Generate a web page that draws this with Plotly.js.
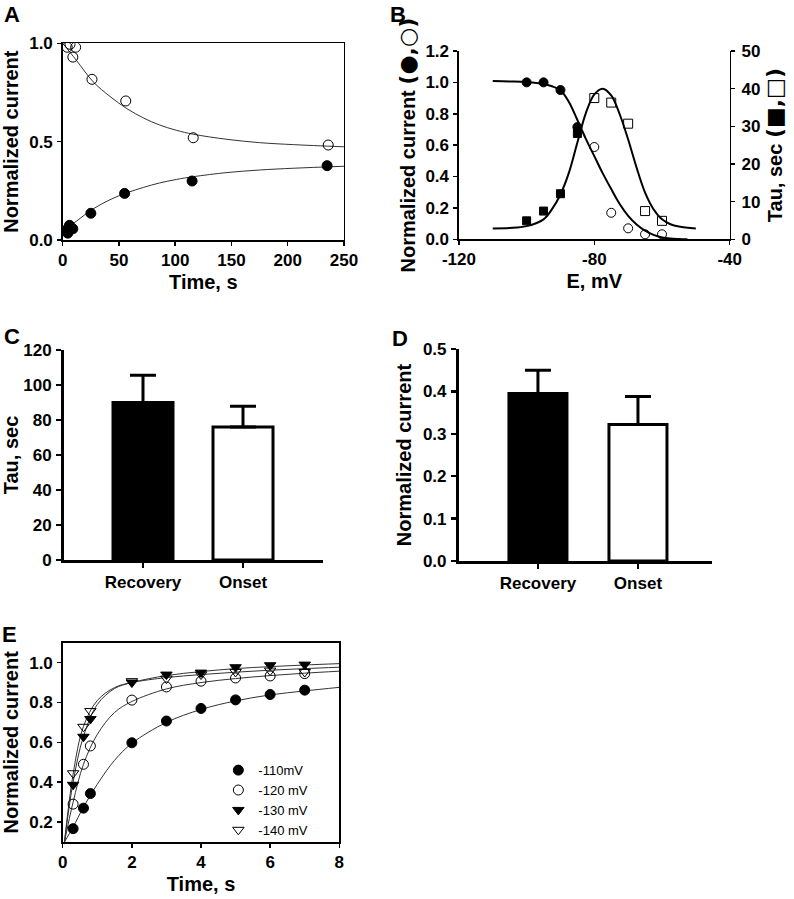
<!DOCTYPE html>
<html>
<head>
<meta charset="utf-8">
<script src="https://cdn.plot.ly/plotly-3.0.1.min.js"></script>
<style>
  html, body { margin: 0; padding: 0; background: #fff; }
  #plotArea { width: 794px; height: 899px; }
</style>
</head>
<body>
<div id="plotArea"></div>
<script>
// panel A - onset / recovery time course
var aOnsetT = [4, 6.5, 9, 11.5, 26, 56, 116, 236];
var aOnsetI = [0.98, 0.995, 0.93, 0.98, 0.817, 0.707, 0.52, 0.483];
var aRecT = [3, 4.5, 6, 9, 25, 55, 115, 235];
var aRecI = [0.05, 0.035, 0.075, 0.057, 0.136, 0.237, 0.30, 0.378];
var aFitT = [0, 12, 27, 42, 57, 72, 86, 101, 116, 146, 175, 205, 250];
var aOnsetFit = [1.0, 0.915, 0.805, 0.73, 0.668, 0.62, 0.585, 0.558, 0.538, 0.512, 0.495, 0.485, 0.474];
var aRecFit = [0.04, 0.095, 0.158, 0.205, 0.24, 0.268, 0.29, 0.308, 0.322, 0.343, 0.356, 0.365, 0.375];

// panel B - steady state curves and tau
var bCloseV = [-100, -95, -90, -85];
var bCloseI = [1.0, 1.0, 0.951, 0.715];
var bOpenV = [-80, -75, -70, -65, -60];
var bOpenI = [0.588, 0.169, 0.07, 0.032, 0.032];
var bCloseTau = [4.9, 7.5, 12.1, 28.1];
var bOpenTau = [37.5, 36.3, 30.7, 7.5, 4.9];
var bFitV = [-110, -105, -100, -95, -92.5, -90, -87.5, -85, -82.5, -80, -77.5, -75, -72.5, -70, -67.5, -65, -62.5, -60, -57.5, -55, -52.5];
var bFitI = [1.008, 1.006, 1.002, 0.99, 0.975, 0.95, 0.875, 0.76, 0.64, 0.53, 0.42, 0.32, 0.225, 0.15, 0.095, 0.055, 0.028, 0.012, 0.005, 0.002, 0.0];
var bTauV = [-110, -105, -100, -95, -92.5, -90, -87.5, -85, -82.5, -80, -77.5, -75, -72.5, -70, -67.5, -65, -62.5, -60, -57.5, -55, -50];
var bTauFit = [2.9, 3.0, 3.5, 5.3, 8.0, 11.9, 17.7, 25.7, 33.5, 38.5, 40.0, 38.2, 33.2, 26.5, 19.0, 12.4, 8.0, 5.3, 4.0, 3.4, 2.9];
var bTickVals = [-120, -80, -40];
var bTickText = ["-120", "-80", "-40"];

// panels C and D - bar summaries
var cats = ["Recovery", "Onset"];
var tauMean = [90, 76];
var tauErr = [15.5, 11.8];
var ampMean = [0.395, 0.322];
var ampErr = [0.055, 0.066];

// panel E - recovery at different potentials
var eT = [0.3, 0.6, 0.8, 2, 3, 4, 5, 6, 7];
var e110 = [0.167, 0.27, 0.343, 0.598, 0.707, 0.77, 0.813, 0.84, 0.862];
var e120 = [0.29, 0.49, 0.582, 0.812, 0.878, 0.907, 0.923, 0.933, 0.945];
var e130 = [0.387, 0.628, 0.717, 0.9, 0.94, 0.95, 0.977, 0.987, 0.99];
var e140 = [0.445, 0.678, 0.757, 0.907, 0.92, 0.94, 0.953, 0.96, 0.953];
var eFitT = [0.05, 0.3, 0.6, 1, 1.5, 2, 3, 4, 5, 6, 7, 8];
var e110Fit = [0.1, 0.175, 0.275, 0.39, 0.51, 0.595, 0.7, 0.765, 0.808, 0.838, 0.858, 0.876];
var e120Fit = [0.1, 0.3, 0.49, 0.64, 0.75, 0.805, 0.868, 0.9, 0.92, 0.935, 0.947, 0.957];
var e130Fit = [0.1, 0.4, 0.63, 0.79, 0.87, 0.9, 0.935, 0.955, 0.97, 0.98, 0.988, 0.995];
var e140Fit = [0.1, 0.44, 0.68, 0.81, 0.875, 0.9, 0.925, 0.94, 0.952, 0.962, 0.97, 0.977];
var eNames = ["-110mV", "-120 mV", "-130 mV", "-140 mV"];

var FONT = "Liberation Sans, Arial, sans-serif";
var bold = function (size) { return {family: FONT, size: size, color: "#000", weight: "bold"}; };

function fitLine(x, y, xa, ya, w, col) {
    return {x: x, y: y, xaxis: xa, yaxis: ya, mode: "lines", type: "scatter",
        line: {color: col || "#000", width: w, shape: "spline"}, showlegend: false, hoverinfo: "skip"};
}
function pts(x, y, xa, ya, sym, size, name, legend) {
    var open = sym.indexOf("open") >= 0;
    return {x: x, y: y, xaxis: xa, yaxis: ya, mode: "markers", type: "scatter", name: name || "",
        showlegend: !!legend,
        marker: {symbol: sym, size: size, color: "#000", line: {color: open ? "#333" : "#000", width: 1}}};
}

var data = [
    // A
    fitLine(aFitT, aOnsetFit, "x", "y", 1, "#333"),
    fitLine(aFitT, aRecFit, "x", "y", 1, "#333"),
    pts(aOnsetT, aOnsetI, "x", "y", "circle-open", 10),
    pts(aRecT, aRecI, "x", "y", "circle", 10),
    // B
    fitLine(bFitV, bFitI, "x2", "y2", 2),
    fitLine(bTauV, bTauFit, "x2", "y3", 2),
    pts(bCloseV, bCloseTau, "x2", "y3", "square", 8),
    pts(bOpenV, bOpenTau, "x2", "y3", "square-open", 9),
    pts(bCloseV, bCloseI, "x2", "y2", "circle", 9),
    pts(bOpenV, bOpenI, "x2", "y2", "circle-open", 9),
    // C
    {x: cats, y: tauMean, xaxis: "x3", yaxis: "y4", type: "bar", width: 0.6, showlegend: false,
        marker: {color: ["#000", "#fff"], line: {color: "#000", width: 3}},
        error_y: {type: "data", array: tauErr, arrayminus: [0, 0], symmetric: false, color: "#000", thickness: 3, width: 13}},
    // D
    {x: cats, y: ampMean, xaxis: "x4", yaxis: "y5", type: "bar", width: 0.58, showlegend: false,
        marker: {color: ["#000", "#fff"], line: {color: "#000", width: 3}},
        error_y: {type: "data", array: ampErr, arrayminus: [0, 0], symmetric: false, color: "#000", thickness: 3, width: 13}},
    // E
    fitLine(eFitT, e110Fit, "x5", "y6", 1, "#333"),
    fitLine(eFitT, e120Fit, "x5", "y6", 1, "#333"),
    fitLine(eFitT, e130Fit, "x5", "y6", 1, "#333"),
    fitLine(eFitT, e140Fit, "x5", "y6", 1, "#333"),
    pts(eT, e110, "x5", "y6", "circle", 10, eNames[0], true),
    pts(eT, e120, "x5", "y6", "circle-open", 10, eNames[1], true),
    pts(eT, e130, "x5", "y6", "triangle-down", 10, eNames[2], true),
    pts(eT, e140, "x5", "y6", "triangle-down-open", 10, eNames[3], true)
];

function axis(extra) {
    var base = {showline: true, linecolor: "#000", linewidth: 1.5, ticks: "outside", ticklen: 4,
        tickwidth: 1.5, tickcolor: "#000", showgrid: false, zeroline: false, tickfont: bold(17),
        fixedrange: true};
    for (var k in extra) base[k] = extra[k];
    return base;
}
function ttl(text, standoff) { return {text: text, font: bold(20), standoff: standoff}; }
var SYM = '<span style="font-family:DejaVu Sans;font-size:22px">';

var layout = {
    width: 794, height: 899, autosize: false,
    margin: {l: 0, r: 0, t: 0, b: 0},
    paper_bgcolor: "#fff", plot_bgcolor: "rgba(0,0,0,0)",
    font: {family: FONT, color: "#000"},
    // A
    xaxis: axis({domain: [0.079, 0.4332], range: [0, 250], dtick: 50, anchor: "y", mirror: true,
        title: ttl("Time, s", 6)}),
    yaxis: axis({domain: [0.733, 0.9518], range: [0, 1], dtick: 0.5, tickformat: ".1f", anchor: "x", mirror: true,
        ticklabelstandoff: 1, title: ttl("Normalized current", 6)}),
    // B
    xaxis2: axis({domain: [0.578, 0.919], range: [-120, -40], tickvals: bTickVals, ticktext: bTickText, anchor: "y2",
        title: ttl("E, mV", 6)}),
    yaxis2: axis({domain: [0.7338, 0.9433], range: [0, 1.2], dtick: 0.2, tickformat: ".1f", anchor: "x2",
        ticklabelstandoff: 1, title: ttl("Normalized current " + SYM + "(●,○)</span>", 4)}),
    yaxis3: axis({domain: [0.7338, 0.9433], range: [0, 50], dtick: 10, anchor: "x2", overlaying: "y2", side: "right",
        ticklabelstandoff: 3, title: ttl("Tau, sec " + SYM + "(■,□)</span>", 8)}),
    // C
    xaxis3: axis({domain: [0.0806, 0.4068], type: "category", range: [-0.79, 1.8], anchor: "y4",
        linewidth: 3, tickwidth: 2.5, ticklen: 5}),
    yaxis4: axis({domain: [0.3771, 0.6107], range: [0, 120], dtick: 20, anchor: "x3",
        linewidth: 3, tickwidth: 2.5, ticklen: 5, ticklabelstandoff: 1, title: ttl("Tau, sec", 6)}),
    // D
    xaxis4: axis({domain: [0.578, 0.8967], type: "category", range: [-0.79, 1.74], anchor: "y5",
        linewidth: 3, tickwidth: 2.5, ticklen: 5}),
    yaxis5: axis({domain: [0.376, 0.6118], range: [0, 0.5], dtick: 0.1, tickformat: ".1f", anchor: "x4",
        linewidth: 3, tickwidth: 2.5, ticklen: 5, ticklabelstandoff: 1, title: ttl("Normalized current", 6)}),
    // E
    xaxis5: axis({domain: [0.079, 0.4273], range: [0, 8], dtick: 2, anchor: "y6", mirror: true,
        title: ttl("Time, s", 6)}),
    yaxis6: axis({domain: [0.0634, 0.2851], range: [0.1, 1.1], tickvals: [0.2, 0.4, 0.6, 0.8, 1.0], tickformat: ".1f",
        anchor: "x5", mirror: true, ticklabelstandoff: 1, title: ttl("Normalized current", 6)}),
    showlegend: true,
    legend: {x: 0.275, y: 0.16, xanchor: "left", yanchor: "top", bgcolor: "rgba(0,0,0,0)",
        font: {family: FONT, size: 13, color: "#000"}, tracegroupgap: 0},
    annotations: [
        {text: "A", x: 0.002, y: 1.0, xref: "paper", yref: "paper", xanchor: "left", yanchor: "top", showarrow: false, font: bold(22)},
        {text: "B", x: 0.489, y: 1.0, xref: "paper", yref: "paper", xanchor: "left", yanchor: "top", showarrow: false, font: bold(22)},
        {text: "C", x: 0.002, y: 1 - 322 / 899, xref: "paper", yref: "paper", xanchor: "left", yanchor: "top", showarrow: false, font: bold(22)},
        {text: "D", x: 0.491, y: 1 - 324 / 899, xref: "paper", yref: "paper", xanchor: "left", yanchor: "top", showarrow: false, font: bold(22)},
        {text: "E", x: 0.0, y: 1 - 620 / 899, xref: "paper", yref: "paper", xanchor: "left", yanchor: "top", showarrow: false, font: bold(22)}
    ]
};

Plotly.newPlot("plotArea", data, layout, {staticPlot: true, displayModeBar: false});
</script>
</body>
</html>
